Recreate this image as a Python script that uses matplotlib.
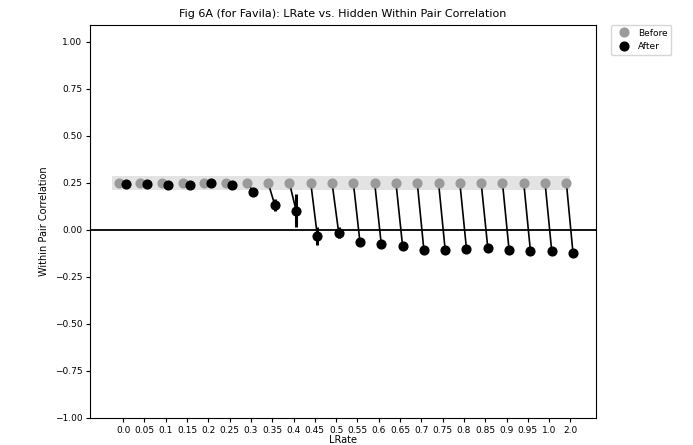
import matplotlib
matplotlib.use("Agg")
import matplotlib.pyplot as plt
import numpy as np

lrates = ["0.0", "0.05", "0.1", "0.15", "0.2", "0.25", "0.3", "0.35", "0.4", "0.45",
          "0.5", "0.55", "0.6", "0.65", "0.7", "0.75", "0.8", "0.85", "0.9", "0.95",
          "1.0", "2.0"]
before = [0.25] * 22
after = [0.245, 0.245, 0.241, 0.241, 0.248, 0.241, 0.204, 0.133, 0.103, -0.032,
         -0.014, -0.065, -0.076, -0.085, -0.106, -0.106, -0.101, -0.094, -0.106, -0.110,
         -0.110, -0.122]
after_err = [0.005, 0.005, 0.005, 0.005, 0.005, 0.005, 0.008, 0.03, 0.09, 0.05,
             0.027, 0.012, 0.012, 0.008, 0.006, 0.006, 0.006, 0.015, 0.006, 0.006,
             0.006, 0.006]
band_lo, band_hi = 0.21, 0.285

fig = plt.figure(figsize=(6.93, 4.45), dpi=100)
ax = fig.add_axes([0.130, 0.0607, 0.730, 0.8833])

x = np.arange(len(lrates))
xb = x - 0.19
xa = x + 0.12

ax.fill_between([-0.5, 21.0], band_lo, band_hi, color="#e3e3e3", lw=0, zorder=0)
ax.axhline(0, color="black", lw=1.3, zorder=1)

for i in range(len(x)):
    ax.plot([xb[i], xa[i]], [before[i], after[i]], color="black", lw=1.2, zorder=2)

ax.errorbar(xa, after, yerr=after_err, fmt="none", ecolor="black", elinewidth=2.2, zorder=3)
ax.plot(xb, before, "o", color="#9a9a9a", ms=6.3, lw=0, label="Before", zorder=3)
ax.plot(xa, after, "o", color="black", ms=6.3, lw=0, label="After", zorder=4)

ax.set_xlim(-1.55, 22.2)
ax.set_ylim(-1.0, 1.09)
ax.set_xticks(x)
ax.set_xticklabels(lrates)
ax.set_yticks([-1.0, -0.75, -0.5, -0.25, 0.0, 0.25, 0.5, 0.75, 1.0])
ax.set_yticklabels(["\u22121.00", "\u22120.75", "\u22120.50", "\u22120.25", "0.00",
                    "0.25", "0.50", "0.75", "1.00"])
ax.tick_params(labelsize=6.5, length=3, width=0.8, pad=2.5)
for s in ax.spines.values():
    s.set_linewidth(0.8)

ax.set_xlabel("LRate", fontsize=7, labelpad=0)
ax.set_ylabel("Within Pair Correlation", fontsize=7)
ax.set_title("Fig 6A (for Favila): LRate vs. Hidden Within Pair Correlation", fontsize=8, pad=6)

ax.legend(loc="upper left", bbox_to_anchor=(1.03, 1.0), borderaxespad=0,
          fontsize=6.5, frameon=True, handletextpad=0.6, markerscale=1.0)

fig.savefig("out.png", dpi=100)
